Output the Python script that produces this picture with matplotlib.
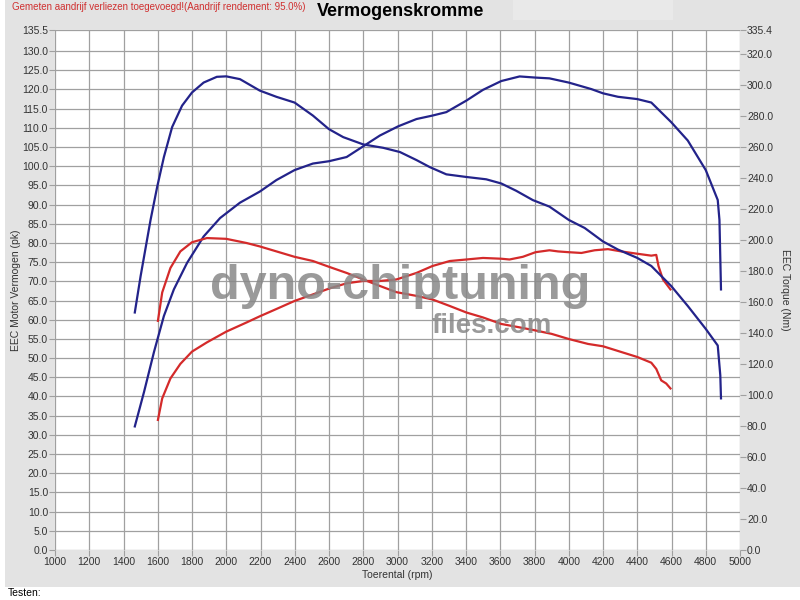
import matplotlib.pyplot as plt
from matplotlib.patches import Rectangle

plt.rcParams['font.family'] = ['Liberation Sans', 'DejaVu Sans']

# getunede motor (blauw)
rpm_tuned_pk = [1466, 1520, 1578, 1636, 1694, 1771, 1868, 1964, 2080, 2196, 2293, 2399,
                2506, 2599, 2703, 2800, 2897, 3004, 3111, 3204, 3285, 3402, 3499, 3606,
                3713, 3806, 3887, 4000, 4132, 4200, 4287, 4400, 4482, 4598, 4695, 4800,
                4870, 4880, 4889]
pk_tuned = [32.2, 41.2, 51.6, 61.0, 67.9, 74.8, 81.7, 86.5, 90.5, 93.4, 96.4, 99.0,
            100.7, 101.3, 102.4, 105.2, 108.0, 110.4, 112.3, 113.2, 114.1, 117.1, 119.9, 122.2,
            123.4, 123.1, 122.9, 121.8, 120.1, 119.0, 118.1, 117.5, 116.6, 111.5, 106.7, 99.0,
            91.2, 86.0, 67.9]

rpm_tuned_nm = [1466, 1500, 1558, 1597, 1636, 1684, 1742, 1800, 1868, 1945, 2000, 2080,
                2196, 2293, 2399, 2506, 2599, 2683, 2800, 2917, 3014, 3111, 3188, 3285,
                3402, 3518, 3606, 3693, 3790, 3887, 4000, 4093, 4200, 4287, 4400, 4482,
                4598, 4695, 4800, 4870, 4885, 4889]
nm_tuned = [153.2, 176.7, 212.9, 234.4, 253.5, 272.8, 286.6, 295.1, 301.5, 305.2, 305.5, 303.7,
            296.3, 292.3, 288.6, 280.2, 271.5, 266.3, 261.6, 259.4, 256.7, 251.5, 247.0, 242.3,
            240.6, 239.1, 236.4, 231.7, 225.7, 221.5, 212.9, 207.7, 199.0, 193.8, 188.4, 183.2,
            170.3, 157.4, 142.6, 131.9, 112.6, 97.8]

# standaard motor (rood)
rpm_stock_pk = [1601, 1626, 1674, 1732, 1800, 1887, 2000, 2119, 2196, 2293, 2399, 2506,
                2599, 2703, 2800, 2897, 2994, 3111, 3204, 3305, 3402, 3499, 3606, 3654,
                3732, 3806, 3887, 3938, 4000, 4074, 4151, 4229, 4307, 4400, 4482, 4511,
                4524, 4550, 4594]
pk_stock = [33.9, 39.5, 44.7, 48.5, 51.7, 54.1, 56.9, 59.3, 60.9, 62.8, 64.9, 66.6,
            68.1, 69.5, 70.1, 70.1, 70.5, 72.2, 74.0, 75.3, 75.7, 76.1, 75.9, 75.7,
            76.4, 77.6, 78.1, 77.8, 77.6, 77.4, 78.1, 78.4, 77.8, 77.2, 76.7, 76.9,
            74.0, 70.5, 67.9]

rpm_stock_nm = [1601, 1626, 1674, 1732, 1800, 1887, 2000, 2119, 2196, 2293, 2399, 2506,
                2599, 2703, 2800, 2897, 2994, 3111, 3204, 3305, 3402, 3499, 3606, 3713,
                3806, 3900, 4000, 4113, 4200, 4307, 4400, 4482, 4511, 4540, 4569, 4594]
nm_stock = [147.8, 166.1, 181.9, 192.6, 198.5, 201.2, 200.7, 198.0, 195.8, 192.6, 189.1, 186.4,
            182.7, 178.7, 174.5, 170.3, 166.3, 163.9, 161.6, 157.4, 153.2, 150.0, 145.8, 143.6,
            141.6, 139.4, 136.1, 132.9, 131.4, 127.7, 124.5, 120.8, 116.8, 109.4, 107.4, 104.2]

x_ticks = list(range(1000, 5001, 200))
pk_ticks = [i * 5.0 for i in range(27)] + [135.5]
nm_ticks = [i * 20.0 for i in range(17)] + [335.4]

blue = '#23238a'
red = '#d42a2a'
grid_c = '#a0a0a0'
txt_c = '#333333'

fig = plt.figure(figsize=(8, 6), dpi=100, facecolor='white')

# grijze achtergrond
fig.patches.append(Rectangle((5 / 800, 13 / 600), 795 / 800, 587 / 600,
                             transform=fig.transFigure, facecolor='#e3e3e3',
                             edgecolor='none', zorder=-10))
fig.patches.append(Rectangle((513 / 800, 580 / 600), 160 / 800, 20 / 600,
                             transform=fig.transFigure, facecolor='#e9e9e9',
                             edgecolor='none', zorder=-9))

ax = fig.add_axes([55 / 800, 50 / 600, 685 / 800, 520 / 600])
ax.set_facecolor('white')
ax.set_xlim(1000, 5000)
ax.set_ylim(0, 135.5)
ax.set_xticks(x_ticks)
ax.set_yticks(pk_ticks)
ax.set_yticklabels(['%.1f' % v for v in pk_ticks])
ax.grid(True, color=grid_c, linewidth=0.9)
ax.set_axisbelow(True)
for s in ax.spines.values():
    s.set_visible(False)
ax.tick_params(axis='both', colors=grid_c, labelcolor=txt_c, labelsize=7.5,
               length=4, width=0.8, pad=1)

ax2 = ax.twinx()
ax2.set_ylim(0, 335.4)
ax2.set_yticks(nm_ticks)
ax2.set_yticklabels(['%.1f' % v for v in nm_ticks])
for s in ax2.spines.values():
    s.set_visible(False)
ax2.tick_params(axis='y', colors=grid_c, labelcolor=txt_c, labelsize=7.5,
                length=4, width=0.8, pad=1)

ax.set_xlabel('Toerental (rpm)', fontsize=7.5, color=txt_c, labelpad=2)
ax.set_ylabel('EEC Motor Vermogen (pk)', fontsize=7.5, color=txt_c, labelpad=1)
ax2.set_ylabel('EEC Torque (Nm)', fontsize=7.5, color=txt_c, rotation=270, labelpad=12)

# watermerk
fig.text(400 / 800, 1 - 299 / 600, 'dyno-chiptuning', fontsize=35, fontweight='bold',
         color='#888888', alpha=0.85, ha='center', va='baseline', zorder=1)
fig.text(492 / 800, 1 - 313 / 600, 'files.com', fontsize=20, fontweight='bold',
         color='#888888', alpha=0.85, ha='center', va='top', zorder=1)

ax.plot(rpm_tuned_pk, pk_tuned, color=blue, lw=1.6, zorder=3)
ax.plot(rpm_stock_pk, pk_stock, color=red, lw=1.6, zorder=3)
ax2.plot(rpm_tuned_nm, nm_tuned, color=blue, lw=1.6, zorder=3)
ax2.plot(rpm_stock_nm, nm_stock, color=red, lw=1.6, zorder=3)

fig.text(401 / 800, 1 - 11 / 600, 'Vermogenskromme', fontsize=13, fontweight='bold',
         color='black', ha='center', va='center')
fig.text(12 / 800, 1 - 7 / 600, 'Gemeten aandrijf verliezen toegevoegd!(Aandrijf rendement: 95.0%)',
         fontsize=7, color='#d03030', ha='left', va='center')
fig.text(8 / 800, 1 - 593 / 600, 'Testen:', fontsize=7.5, color='black', ha='left', va='center')

fig.savefig('out.png', dpi=100)
